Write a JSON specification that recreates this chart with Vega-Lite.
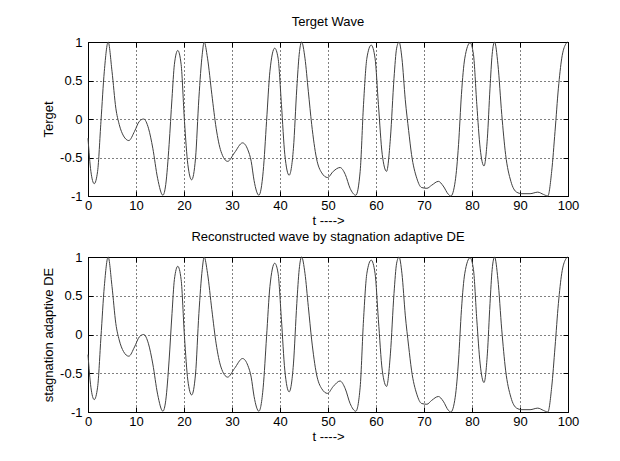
{
  "$schema": "https://vega.github.io/schema/vega-lite/v6.json",
  "background": "white",
  "padding": {"left": 42, "top": 15, "right": 5, "bottom": 5},
  "bounds": "flush",
  "spacing": 61,
  "datasets": {
    "wave": [
      {"t": 0, "target": -0.25, "recon": -0.26},
      {"t": 0.6, "target": -0.68, "recon": -0.68},
      {"t": 1.3, "target": -0.84, "recon": -0.84},
      {"t": 2.0, "target": -0.68, "recon": -0.68},
      {"t": 2.7, "target": -0.03, "recon": -0.03},
      {"t": 3.4, "target": 0.62, "recon": 0.62},
      {"t": 4.2, "target": 1.0, "recon": 1.0},
      {"t": 5.0, "target": 0.62, "recon": 0.62},
      {"t": 5.8, "target": 0.14, "recon": 0.14},
      {"t": 6.5, "target": -0.07, "recon": -0.07},
      {"t": 7.4, "target": -0.22, "recon": -0.22},
      {"t": 8.5, "target": -0.28, "recon": -0.28},
      {"t": 9.7, "target": -0.16, "recon": -0.16},
      {"t": 10.7, "target": -0.03, "recon": -0.03},
      {"t": 11.6, "target": 0.0, "recon": 0.0},
      {"t": 12.6, "target": -0.12, "recon": -0.12},
      {"t": 13.5, "target": -0.38, "recon": -0.38},
      {"t": 14.5, "target": -0.77, "recon": -0.77},
      {"t": 15.6, "target": -0.99, "recon": -0.99},
      {"t": 16.2, "target": -0.85, "recon": -0.85},
      {"t": 16.9, "target": -0.33, "recon": -0.33},
      {"t": 17.5, "target": 0.27, "recon": 0.27},
      {"t": 18.0, "target": 0.71, "recon": 0.71},
      {"t": 18.7, "target": 0.89, "recon": 0.88},
      {"t": 19.4, "target": 0.71, "recon": 0.71},
      {"t": 20.1, "target": -0.03, "recon": -0.03},
      {"t": 20.8, "target": -0.59, "recon": -0.59},
      {"t": 21.6, "target": -0.79, "recon": -0.78},
      {"t": 22.4, "target": -0.51, "recon": -0.51},
      {"t": 23.1, "target": 0.27, "recon": 0.27},
      {"t": 23.8, "target": 0.84, "recon": 0.84},
      {"t": 24.2, "target": 1.0, "recon": 1.0},
      {"t": 24.9, "target": 0.79, "recon": 0.79},
      {"t": 25.8, "target": 0.32, "recon": 0.32},
      {"t": 26.7, "target": -0.12, "recon": -0.12},
      {"t": 27.7, "target": -0.42, "recon": -0.42},
      {"t": 29.1, "target": -0.55, "recon": -0.55},
      {"t": 30.5, "target": -0.44, "recon": -0.44},
      {"t": 32.2, "target": -0.31, "recon": -0.31},
      {"t": 33.3, "target": -0.40, "recon": -0.40},
      {"t": 34.0, "target": -0.55, "recon": -0.55},
      {"t": 34.6, "target": -0.80, "recon": -0.80},
      {"t": 35.6, "target": -0.99, "recon": -0.99},
      {"t": 36.5, "target": -0.68, "recon": -0.68},
      {"t": 37.2, "target": -0.03, "recon": -0.03},
      {"t": 37.9, "target": 0.62, "recon": 0.62},
      {"t": 38.9, "target": 0.92, "recon": 0.92},
      {"t": 39.6, "target": 0.79, "recon": 0.79},
      {"t": 40.3, "target": 0.19, "recon": 0.19},
      {"t": 41.0, "target": -0.46, "recon": -0.46},
      {"t": 41.9, "target": -0.73, "recon": -0.74},
      {"t": 42.8, "target": -0.38, "recon": -0.38},
      {"t": 43.5, "target": 0.40, "recon": 0.40},
      {"t": 44.0, "target": 0.84, "recon": 0.84},
      {"t": 44.5, "target": 1.0, "recon": 1.0},
      {"t": 45.2, "target": 0.79, "recon": 0.79},
      {"t": 45.9, "target": 0.36, "recon": 0.36},
      {"t": 46.6, "target": -0.07, "recon": -0.07},
      {"t": 47.6, "target": -0.51, "recon": -0.51},
      {"t": 48.7, "target": -0.70, "recon": -0.70},
      {"t": 49.9, "target": -0.76, "recon": -0.76},
      {"t": 51.1, "target": -0.68, "recon": -0.67},
      {"t": 52.5, "target": -0.63, "recon": -0.60},
      {"t": 53.6, "target": -0.72, "recon": -0.70},
      {"t": 54.6, "target": -0.90, "recon": -0.89},
      {"t": 55.8, "target": -0.99, "recon": -0.99},
      {"t": 56.7, "target": -0.68, "recon": -0.68},
      {"t": 57.4, "target": 0.19, "recon": 0.19},
      {"t": 58.1, "target": 0.79, "recon": 0.79},
      {"t": 59.0, "target": 0.96, "recon": 0.96},
      {"t": 59.8, "target": 0.79, "recon": 0.79},
      {"t": 60.5, "target": 0.19, "recon": 0.19},
      {"t": 61.3, "target": -0.46, "recon": -0.46},
      {"t": 62.2, "target": -0.68, "recon": -0.67},
      {"t": 63.0, "target": -0.25, "recon": -0.25},
      {"t": 63.75, "target": 0.53, "recon": 0.53},
      {"t": 64.3, "target": 0.92, "recon": 0.92},
      {"t": 64.8, "target": 1.0, "recon": 1.0},
      {"t": 65.4, "target": 0.79, "recon": 0.79},
      {"t": 66.1, "target": 0.25, "recon": 0.25},
      {"t": 66.8, "target": -0.15, "recon": -0.15},
      {"t": 67.4, "target": -0.46, "recon": -0.46},
      {"t": 68.5, "target": -0.77, "recon": -0.77},
      {"t": 69.5, "target": -0.89, "recon": -0.89},
      {"t": 70.6, "target": -0.90, "recon": -0.90},
      {"t": 71.6, "target": -0.86, "recon": -0.85},
      {"t": 73.0, "target": -0.81, "recon": -0.80},
      {"t": 74.0, "target": -0.87, "recon": -0.86},
      {"t": 75.1, "target": -0.98, "recon": -0.98},
      {"t": 75.6, "target": -1.0, "recon": -1.0},
      {"t": 76.5, "target": -0.81, "recon": -0.81},
      {"t": 77.2, "target": -0.33, "recon": -0.33},
      {"t": 77.8, "target": 0.32, "recon": 0.32},
      {"t": 78.5, "target": 0.79, "recon": 0.79},
      {"t": 79.6, "target": 0.99, "recon": 0.99},
      {"t": 80.3, "target": 0.84, "recon": 0.84},
      {"t": 81.0, "target": 0.19, "recon": 0.19},
      {"t": 81.7, "target": -0.38, "recon": -0.38},
      {"t": 82.5, "target": -0.61, "recon": -0.62},
      {"t": 83.2, "target": -0.25, "recon": -0.25},
      {"t": 83.75, "target": 0.40, "recon": 0.40},
      {"t": 84.2, "target": 0.84, "recon": 0.84},
      {"t": 84.7, "target": 1.0, "recon": 1.0},
      {"t": 85.4, "target": 0.71, "recon": 0.71},
      {"t": 86.2, "target": 0.06, "recon": 0.06},
      {"t": 87.0, "target": -0.46, "recon": -0.46},
      {"t": 88.1, "target": -0.81, "recon": -0.81},
      {"t": 89.3, "target": -0.95, "recon": -0.95},
      {"t": 90.4, "target": -0.97, "recon": -0.97},
      {"t": 92.1, "target": -0.97, "recon": -0.97},
      {"t": 93.7, "target": -0.95, "recon": -0.95},
      {"t": 94.9, "target": -0.98, "recon": -0.98},
      {"t": 95.8, "target": -1.0, "recon": -1.0},
      {"t": 96.6, "target": -0.68, "recon": -0.68},
      {"t": 97.3, "target": -0.16, "recon": -0.16},
      {"t": 98.0, "target": 0.40, "recon": 0.40},
      {"t": 98.7, "target": 0.79, "recon": 0.79},
      {"t": 99.5, "target": 0.97, "recon": 0.97},
      {"t": 100, "target": 1.0, "recon": 1.0}
    ]
  },
  "config": {
    "font": "Liberation Sans",
    "view": {"stroke": "black", "strokeWidth": 1},
    "title": {"font": "Liberation Sans", "fontSize": 13, "fontWeight": "normal", "color": "black", "offset": 7},
    "axis": {
      "domainColor": "black",
      "tickColor": "black",
      "tickSize": -5,
      "labelColor": "black",
      "labelFlush": false,
      "titleColor": "black",
      "labelFont": "Liberation Sans",
      "titleFont": "Liberation Sans",
      "labelFontSize": 13,
      "titleFontSize": 13,
      "titleFontWeight": "normal",
      "gridColor": "black",
      "gridDash": [1, 3],
      "gridOpacity": 1,
      "gridWidth": 1
    }
  },
  "vconcat": [
    {
      "width": 480,
      "height": 154,
      "title": "Terget Wave",
      "data": {"name": "wave"},
      "layer": [
        {
          "mark": {"type": "line", "color": "#404040", "strokeWidth": 1, "interpolate": "monotone"},
          "encoding": {
            "x": {"field": "t", "type": "quantitative", "scale": {"domain": [0, 100], "nice": false},
                  "axis": {"orient": "bottom", "values": [0,10,20,30,40,50,60,70,80,90,100], "title": "t ---->", "labelPadding": 8, "titlePadding": 2}},
            "y": {"field": "target", "type": "quantitative", "scale": {"domain": [-1, 1], "nice": false},
                  "axis": {"orient": "left", "values": [-1,-0.5,0,0.5,1], "labelExpr": "'' + datum.value", "title": "Terget", "labelPadding": 11, "titlePadding": 4}}
          }
        },
        {
          "mark": {"type": "line", "strokeOpacity": 0, "interpolate": "monotone"},
          "encoding": {
            "x": {"field": "t", "type": "quantitative", "axis": {"orient": "top", "values": [0,10,20,30,40,50,60,70,80,90,100], "labels": false, "grid": false, "title": null}},
            "y": {"field": "target", "type": "quantitative", "axis": {"orient": "right", "values": [-1,-0.5,0,0.5,1], "labels": false, "grid": false, "title": null}}
          }
        }
      ],
      "resolve": {"axis": {"x": "independent", "y": "independent"}}
    },
    {
      "width": 480,
      "height": 155,
      "title": "Reconstructed wave by stagnation adaptive DE",
      "data": {"name": "wave"},
      "layer": [
        {
          "mark": {"type": "line", "color": "#404040", "strokeWidth": 1, "interpolate": "monotone"},
          "encoding": {
            "x": {"field": "t", "type": "quantitative", "scale": {"domain": [0, 100], "nice": false},
                  "axis": {"orient": "bottom", "values": [0,10,20,30,40,50,60,70,80,90,100], "title": "t ---->", "labelPadding": 8, "titlePadding": 2}},
            "y": {"field": "recon", "type": "quantitative", "scale": {"domain": [-1, 1], "nice": false},
                  "axis": {"orient": "left", "values": [-1,-0.5,0,0.5,1], "labelExpr": "'' + datum.value", "title": "stagnation adaptive DE", "labelPadding": 11, "titlePadding": 4}}
          }
        },
        {
          "mark": {"type": "line", "strokeOpacity": 0, "interpolate": "monotone"},
          "encoding": {
            "x": {"field": "t", "type": "quantitative", "axis": {"orient": "top", "values": [0,10,20,30,40,50,60,70,80,90,100], "labels": false, "grid": false, "title": null}},
            "y": {"field": "recon", "type": "quantitative", "axis": {"orient": "right", "values": [-1,-0.5,0,0.5,1], "labels": false, "grid": false, "title": null}}
          }
        }
      ],
      "resolve": {"axis": {"x": "independent", "y": "independent"}}
    }
  ]
}
